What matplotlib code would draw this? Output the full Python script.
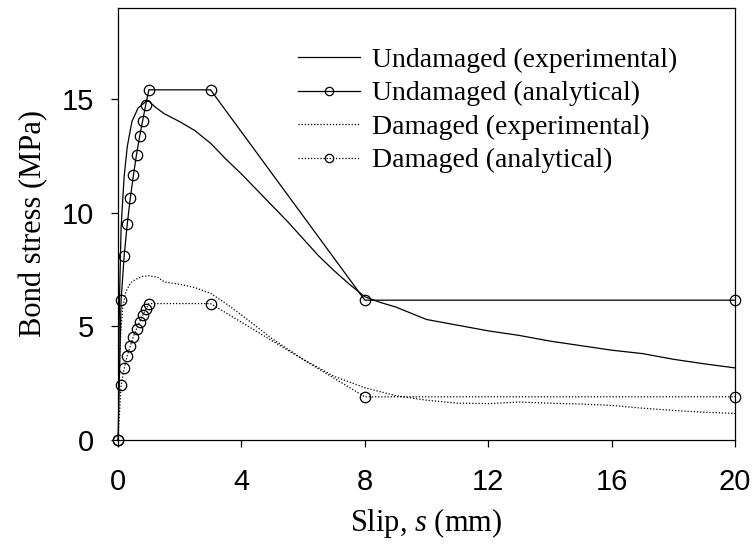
import numpy as np
import matplotlib
matplotlib.use("Agg")
import matplotlib.pyplot as plt

# undamaged, experimental
s_und_exp = [0, 0.02, 0.05, 0.1, 0.15, 0.2, 0.3, 0.45, 0.65, 0.9, 1.0, 1.2, 1.5, 2.0,
             2.5, 3.0, 3.5, 4.0, 4.5, 5.0, 5.5, 6.0, 6.5, 7.0, 7.5, 8.0, 8.5, 9.0,
             10, 11, 12, 13, 14, 15, 16, 17, 18, 19, 20]
t_und_exp = [0, 3.0, 6.3, 9.3, 10.5, 11.6, 12.9, 14.0, 14.6, 14.88, 14.9, 14.65, 14.35,
             14.0, 13.6, 13.05, 12.35, 11.7, 11.0, 10.3, 9.6, 8.85, 8.1, 7.45, 6.85, 6.3,
             6.05, 5.85, 5.3, 5.05, 4.8, 4.6, 4.35, 4.15, 3.95, 3.8, 3.55, 3.35, 3.17]

# undamaged, analytical
s_und_ana = [0, 0.1, 0.2, 0.3, 0.4, 0.5, 0.6, 0.7, 0.8, 0.9, 1.0, 3.0, 8.0, 20.0]
t_und_ana = [0, 6.15, 8.1, 9.5, 10.65, 11.65, 12.55, 13.35, 14.05, 14.75, 15.4, 15.4,
             6.15, 6.15]

# damaged, experimental
s_dam_exp = [0, 0.03, 0.08, 0.15, 0.25, 0.4, 0.55, 0.8, 1.0, 1.3, 1.5, 2.0, 2.5, 3.0,
             3.5, 4.0, 5, 6, 7, 8, 9, 10, 11, 12, 13, 14, 15, 16, 17, 18, 19, 20]
t_dam_exp = [0, 2.5, 4.5, 5.8, 6.5, 6.9, 7.05, 7.2, 7.22, 7.15, 6.95, 6.85, 6.7, 6.45,
             6.0, 5.5, 4.45, 3.55, 2.8, 2.3, 1.95, 1.75, 1.62, 1.6, 1.67, 1.62, 1.58,
             1.52, 1.4, 1.3, 1.22, 1.17]

# damaged, analytical
s_dam_ana = [0, 0.1, 0.2, 0.3, 0.4, 0.5, 0.6, 0.7, 0.8, 0.9, 1.0, 3.0, 8.0, 20.0]
t_dam_ana = [0, 2.4, 3.15, 3.7, 4.14, 4.55, 4.88, 5.2, 5.48, 5.75, 6.0, 6.0, 1.9, 1.9]

tick_font = ['Liberation Sans', 'DejaVu Sans']
serif_font = ['Liberation Serif', 'DejaVu Serif']

plt.rcParams['mathtext.fontset'] = 'custom'
plt.rcParams['mathtext.it'] = 'Liberation Serif:italic'
plt.rcParams['mathtext.rm'] = 'Liberation Serif'

fig = plt.figure(figsize=(7.54, 5.47), dpi=100)
ax = fig.add_axes([0.1565, 0.1956, 0.8185, 0.7898])

dot = (0, (1, 1.5))
ax.plot(s_und_exp, t_und_exp, color='black', lw=0.9, label='Undamaged (experimental)')
ax.plot(s_und_ana, t_und_ana, color='black', lw=0.9, marker='o', ms=7.5,
        mfc='none', mec='black', mew=0.9, label='Undamaged (analytical)', clip_on=False)
ax.plot(s_dam_exp, t_dam_exp, color='black', lw=0.9, ls=dot, label='Damaged (experimental)')
ax.plot(s_dam_ana, t_dam_ana, color='black', lw=0.9, ls=dot, marker='o', ms=7.5,
        mfc='none', mec='black', mew=0.9, label='Damaged (analytical)', clip_on=False)

ax.set_xlim(0, 20)
ax.set_ylim(0, 19)
ax.set_xticks([0, 4, 8, 12, 16, 20])
ax.set_yticks([0, 5, 10, 15])
ax.tick_params(direction='out', length=5, width=0.9, labelsize=21, pad=12)
ax.tick_params(axis='x', pad=15)
for lab in ax.get_xticklabels() + ax.get_yticklabels():
    lab.set_family(tick_font)
for sp in ax.spines.values():
    sp.set_linewidth(0.9)

ax.set_xlabel('Slip, $\\mathit{s}$ (mm)', family=serif_font, fontsize=22, labelpad=7)
ax.set_ylabel('Bond stress (MPa)', family=serif_font, fontsize=22, labelpad=10)

leg = ax.legend(loc='upper left', bbox_to_anchor=(0.2917, 0.909), frameon=False,
                prop={'family': serif_font, 'size': 20}, handlelength=2.23,
                handletextpad=0.45, labelspacing=0.29, borderaxespad=0, borderpad=0)
for h in leg.legend_handles:
    h.set_markersize(6)

fig.savefig('out.png', dpi=100)
